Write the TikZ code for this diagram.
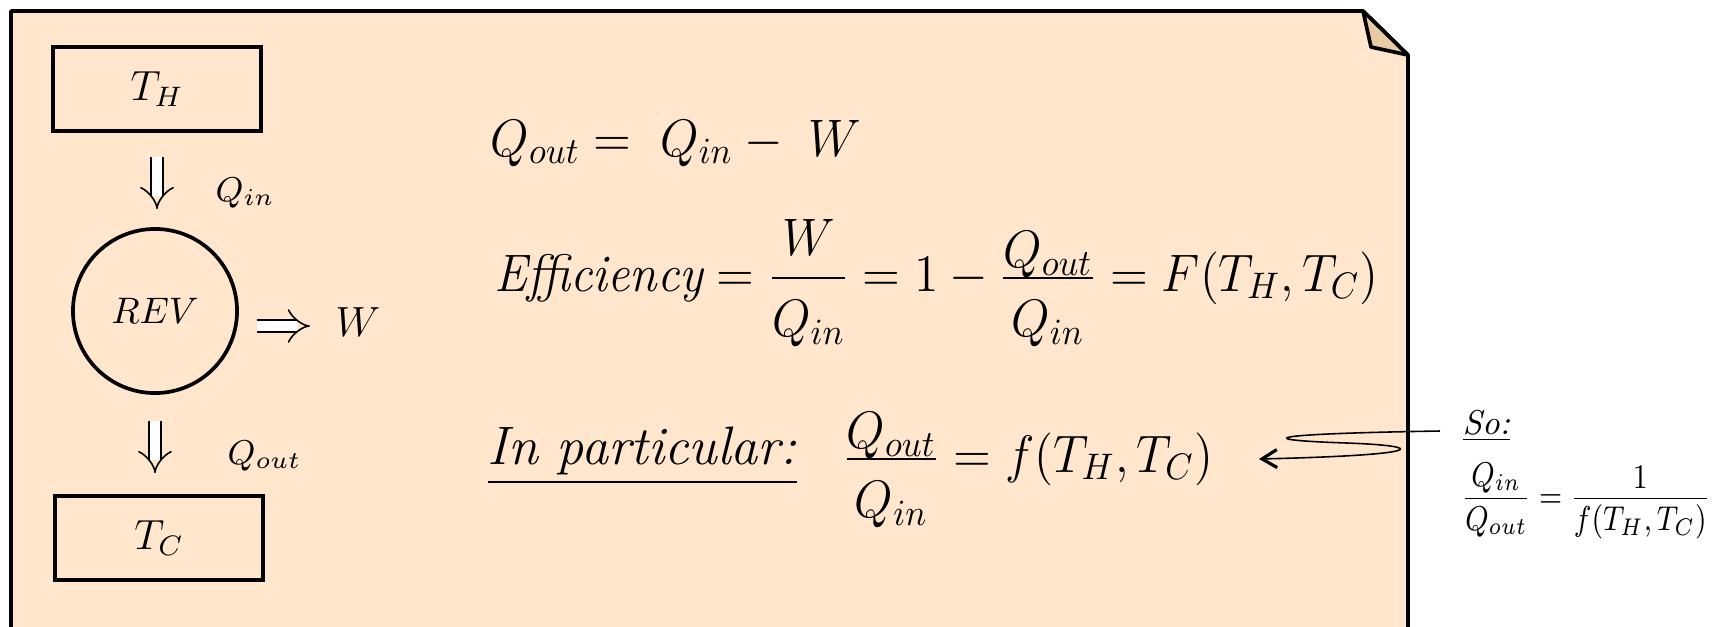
\RequirePackage{fix-cm}
\documentclass[tikz,border=0pt]{standalone}
\usepackage{amsmath,amssymb}
\usepackage{graphicx}
\usepackage{tikz}
\usetikzlibrary{arrows.meta,positioning,calc}
\usepackage{xcolor}
\definecolor{notefill}{HTML}{FFE6CC}
\definecolor{foldfill}{HTML}{E8CBA6}
% numerator set a little lower than TeX puts it
\newcommand{\lownum}[2]{\raisebox{-#1}[\height][0pt]{$#2$}}

\begin{document}
\begin{tikzpicture}[x=0.01cm,y=-0.01cm,>=Latex, every node/.style={font=\fontsize{9.8}{12}\selectfont,inner sep=0pt}]
\tikzstyle{res}=[draw,line width=1.05pt,minimum width=2.08cm,minimum height=0.84cm,font=\fontsize{12}{14}\selectfont]
\tikzstyle{dbl}=[double,double distance=3pt,line width=0.45pt,-Implies]
\tikzstyle{big}=[font=\fontsize{15}{18}\selectfont]
\clip (0,0) rectangle (1726,626);
% note sheet with folded corner
\draw[line width=1.05pt,line join=round,fill=notefill] (11,700) -- (11,11) -- (1363,11) -- (1408,55) -- (1408,700);
\draw[line width=1.05pt,line join=round,fill=foldfill] (1363,11) -- (1371,47) -- (1408,55) -- cycle;
% engine
\node[res] (th) at (157,89) {$T_H$};
\node[res] (tc) at (159,538) {$T_C$};
\node[draw,circle,line width=1.05pt,minimum size=1.64cm,font=\fontsize{10.5}{12}\selectfont] (rev) at (155,311) {$REV$};
\node[anchor=west] (qin) at (215,193) {$Q_{in}$};
\node[anchor=west] (qout) at (227,456) {$Q_{out}$};
\node[font=\fontsize{12}{14}\selectfont] (w) at (358,322) {$W$};
\draw[dbl,shorten <=0.24cm,shorten >=0.18cm] (th.south) -- (th.south |- rev.north);
\draw[dbl,shorten <=0.26cm,shorten >=0.21cm] (rev.south) -- (rev.south |- tc.north);
\draw[dbl,shorten <=0.18cm,shorten >=0.25cm] ($(rev.east)+(0,15)$) -- ($(rev.east -| w.west)+(0,15)$);
% equations
\node[big,anchor=base west] (e1) at (490,156) {\scalebox{0.94}[1]{$Q_{out} =\ Q_{in} -\ W$}};
\node[big,anchor=base west] (e2) at (494,291) {\scalebox{0.94}[1]{$\textit{Efficiency} = \dfrac{W}{\rule{0pt}{14.7pt}Q_{in}} = 1 - \dfrac{\lownum{3.4pt}{Q_{out}}}{\rule{0pt}{14.7pt}Q_{in}} = F(T_H,T_C)$}};
\node[font=\fontsize{15.4}{18}\selectfont,anchor=base west] (ip) at (487,464) {\underline{\textit{In particular:}}};
\node[big,anchor=base west] (part) at (842,472) {\scalebox{0.94}[1]{$\dfrac{\lownum{3.4pt}{Q_{out}}}{\rule{0pt}{14.7pt}Q_{in}} = f(T_H,T_C)$}};
% side note
\node[anchor=base west] (so) at (1462,434) {\underline{\textit{So:}}};
\node[anchor=base west] (inv) at (1461,507) {\scalebox{0.84}[1]{$\dfrac{\lownum{2pt}{Q_{in}}}{\rule{0pt}{7.5pt}Q_{out}} = \dfrac{\lownum{1pt}{1}}{f(T_H,T_C)}$}};
\draw[line width=0.45pt,-{Straight Barb[length=1.5mm,width=1.8mm,line width=0.9pt]}] ([xshift=-0.22cm,yshift=0.03cm]so.base west) .. controls (1255,434) and (1255,440) .. (1347,443) .. controls (1429,446) and (1428,455) .. ([xshift=0.45cm,yshift=0.13cm]part.base east);
\end{tikzpicture}
\end{document}
